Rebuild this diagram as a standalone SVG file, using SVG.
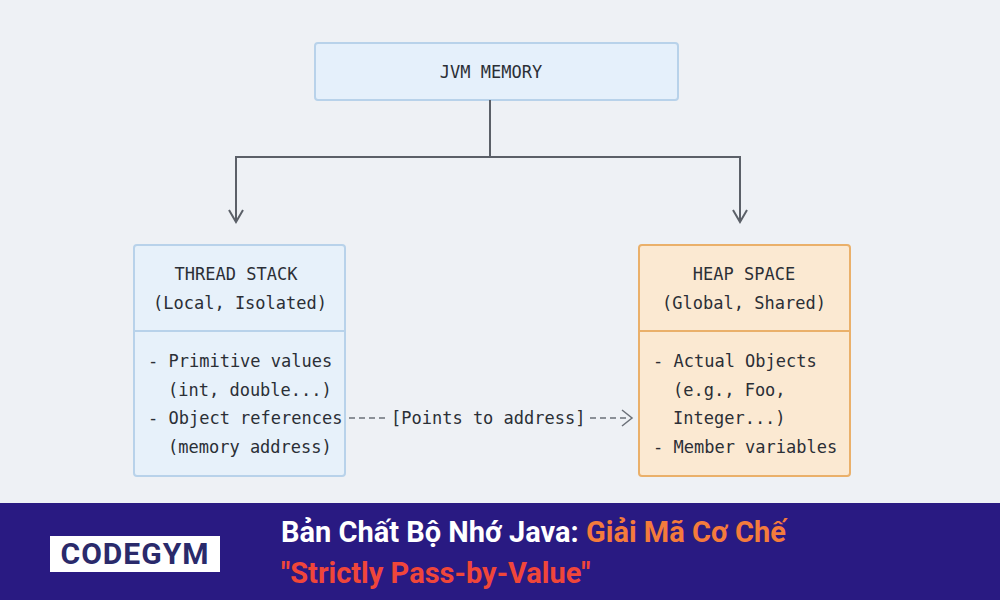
<svg xmlns="http://www.w3.org/2000/svg" width="1000" height="600" viewBox="0 0 1000 600">
<style>
.m{font-family:"DejaVu Sans Mono","Liberation Mono",monospace;font-size:17px;fill:#2b2f36;white-space:pre}
.c{text-anchor:middle}
.ln{stroke:#5b6068;stroke-width:2;fill:none}
.d{stroke:#6b7078;stroke-width:1.5;fill:none;stroke-dasharray:6 4}
.h{font-family:"Liberation Sans Narrow","Roboto","Liberation Sans",sans-serif;font-weight:bold;font-size:29px}
</style>
<rect width="1000" height="600" fill="#eef1f5"/>
<g id="jvm"><rect x="315" y="43" width="363" height="57" rx="3" fill="#e5f0fb" stroke="#b8d2ea" stroke-width="2"/><text class="m c" x="491" y="78">JVM MEMORY</text></g>
<g id="stack"><rect x="134" y="245" width="211" height="231" rx="3" fill="#e7f1fa" stroke="#b8d2ea" stroke-width="2"/><line x1="134" y1="331" x2="345" y2="331" stroke="#b8d2ea" stroke-width="2"/>
<text class="m c" x="236" y="280">THREAD STACK</text><text class="m c" x="240" y="309">(Local, Isolated)</text>
<text class="m" x="148" y="367">- Primitive values</text><text class="m" x="168" y="396">(int, double...)</text><text class="m" x="148" y="424">- Object references</text><text class="m" x="168" y="453">(memory address)</text></g>
<g id="heap"><rect x="639" y="245" width="211" height="231" rx="3" fill="#fbe9d2" stroke="#eab06a" stroke-width="2"/><line x1="639" y1="331" x2="850" y2="331" stroke="#eab06a" stroke-width="2"/>
<text class="m c" x="744" y="280">HEAP SPACE</text><text class="m c" x="744" y="309">(Global, Shared)</text>
<text class="m" x="653" y="367">- Actual Objects</text><text class="m" x="673" y="396">(e.g., Foo,</text><text class="m" x="673" y="424">Integer...)</text><text class="m" x="653" y="453">- Member variables</text></g>
<g id="connectors">
<polyline class="ln" points="490,100 490,157 236,157 236,222"/><polyline class="ln" points="490,157 740,157 740,222"/>
<polyline class="ln" points="229,210 236,222 243,210"/><polyline class="ln" points="733,210 740,222 747,210"/>
<line class="d" x1="349" y1="418" x2="387" y2="418"/><text class="m" x="391" y="424">[Points to address]</text>
<line class="d" x1="590" y1="418" x2="630" y2="418"/><polyline points="622,410 632,418 622,426" fill="none" stroke="#6b7078" stroke-width="1.5"/>
</g>
<rect y="503" width="1000" height="97" fill="#291a82"/>
<rect x="50" y="536" width="170" height="36" fill="#fff"/>
<text x="135" y="564" text-anchor="middle" font-family="Liberation Sans Narrow,Roboto,sans-serif" font-size="30" font-weight="bold" fill="#2a2a6b" letter-spacing="1">CODEGYM</text>
<text class="h" x="281" y="542" fill="#fff">Bản Chất Bộ Nhớ Java: <tspan fill="#f47b3c">Giải Mã Cơ Chế</tspan></text>
<text class="h" x="281" y="583" fill="#f0463a">"Strictly Pass-by-Value"</text>
</svg>
